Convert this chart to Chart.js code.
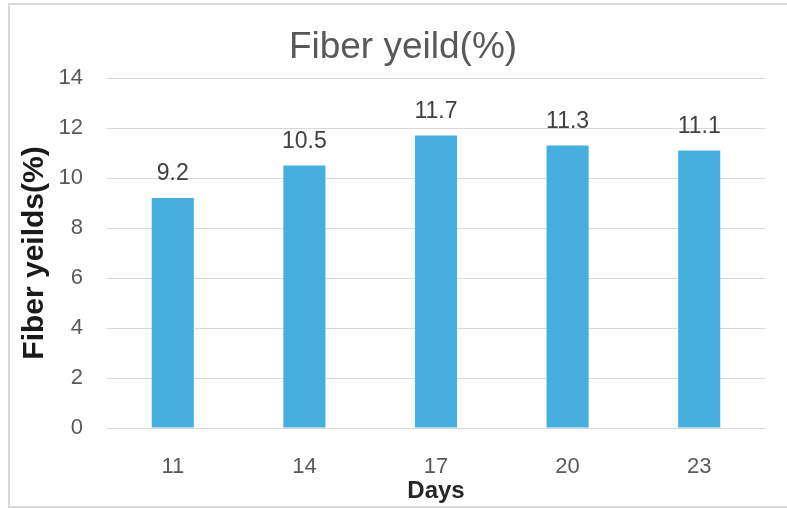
<!DOCTYPE html>
<html>
<head>
<meta charset="utf-8">
<script src="https://cdn.jsdelivr.net/npm/chart.js@4/dist/chart.umd.min.js"></script>
<style>
  html, body { margin: 0; padding: 0; background: #fff; }
  #wrap { position: relative; width: 787px; height: 508px; overflow: hidden; }
  canvas { position: absolute; left: 0; top: 0; }
</style>
</head>
<body>
<div id="wrap"><canvas id="chart" width="787" height="508"></canvas></div>
<script>
// Harvest day vs. fiber yield
const days = ['11', '14', '17', '20', '23'];
const fiberYield = [9.2, 10.5, 11.7, 11.3, 11.1];
const yTicks = [0, 2, 4, 6, 8, 10, 12, 14];
const chartTitle = 'Fiber yeild(%)';

const FONT = "'Liberation Sans', Arial, sans-serif";

// white background, light frame and the chart heading
const framePlugin = {
  id: 'frame',
  beforeDraw(chart) {
    const ctx = chart.ctx;
    ctx.save();
    ctx.fillStyle = '#ffffff';
    ctx.fillRect(0, 0, chart.width, chart.height);
    ctx.strokeStyle = '#d9d9d9';
    ctx.lineWidth = 2;
    ctx.strokeRect(9, 4, chart.width + 20, chart.height - 5);
    ctx.fillStyle = '#595959';
    ctx.font = '37px ' + FONT;
    ctx.textAlign = 'center';
    ctx.textBaseline = 'middle';
    ctx.fillText(chartTitle, 403, 48);
    ctx.restore();
  }
};

// value labels above each bar
const valueLabels = {
  id: 'valueLabels',
  afterDatasetsDraw(chart) {
    const ctx = chart.ctx;
    const meta = chart.getDatasetMeta(0);
    ctx.save();
    ctx.font = '23px ' + FONT;
    ctx.fillStyle = '#404040';
    ctx.textAlign = 'center';
    ctx.textBaseline = 'middle';
    meta.data.forEach((bar, i) => {
      ctx.fillText(String(chart.data.datasets[0].data[i]), bar.x, bar.y - 24);
    });
    ctx.restore();
  }
};

new Chart(document.getElementById('chart'), {
  type: 'bar',
  data: {
    labels: days,
    datasets: [{
      data: fiberYield,
      backgroundColor: '#46afe0',
      borderWidth: 0,
      categoryPercentage: 1,
      barPercentage: 0.32
    }]
  },
  options: {
    responsive: false,
    animation: false,
    layout: { padding: { left: 0, right: 22, top: 78, bottom: 0 } },
    plugins: {
      legend: { display: false },
      tooltip: { enabled: false },
      title: { display: false }
    },
    scales: {
      x: {
        grid: { display: false, drawTicks: false },
        border: { display: true, color: '#d9d9d9', width: 1 },
        ticks: { color: '#595959', font: { family: FONT, size: 22 }, padding: 26 },
        title: {
          display: true,
          text: 'Days',
          color: '#262626',
          font: { family: FONT, size: 24, weight: 'bold', lineHeight: 1.2 },
          padding: { top: 0, bottom: 2 }
        },
        afterFit(scale) { scale.height = 80; }
      },
      y: {
        min: 0,
        max: 14,
        afterBuildTicks(scale) { scale.ticks = yTicks.map(v => ({ value: v })); },
        grid: { color: '#d9d9d9', lineWidth: 1, drawTicks: false },
        border: { display: false },
        ticks: { color: '#595959', font: { family: FONT, size: 22 }, padding: 24 },
        title: {
          display: true,
          text: 'Fiber yeilds(%)',
          color: '#1a1a1a',
          font: { family: FONT, size: 30, weight: 'bold', lineHeight: 1.2 },
          padding: { top: 17, bottom: 0 }
        },
        afterFit(scale) { scale.width = 107; }
      }
    }
  },
  plugins: [framePlugin, valueLabels]
});
</script>
</body>
</html>
